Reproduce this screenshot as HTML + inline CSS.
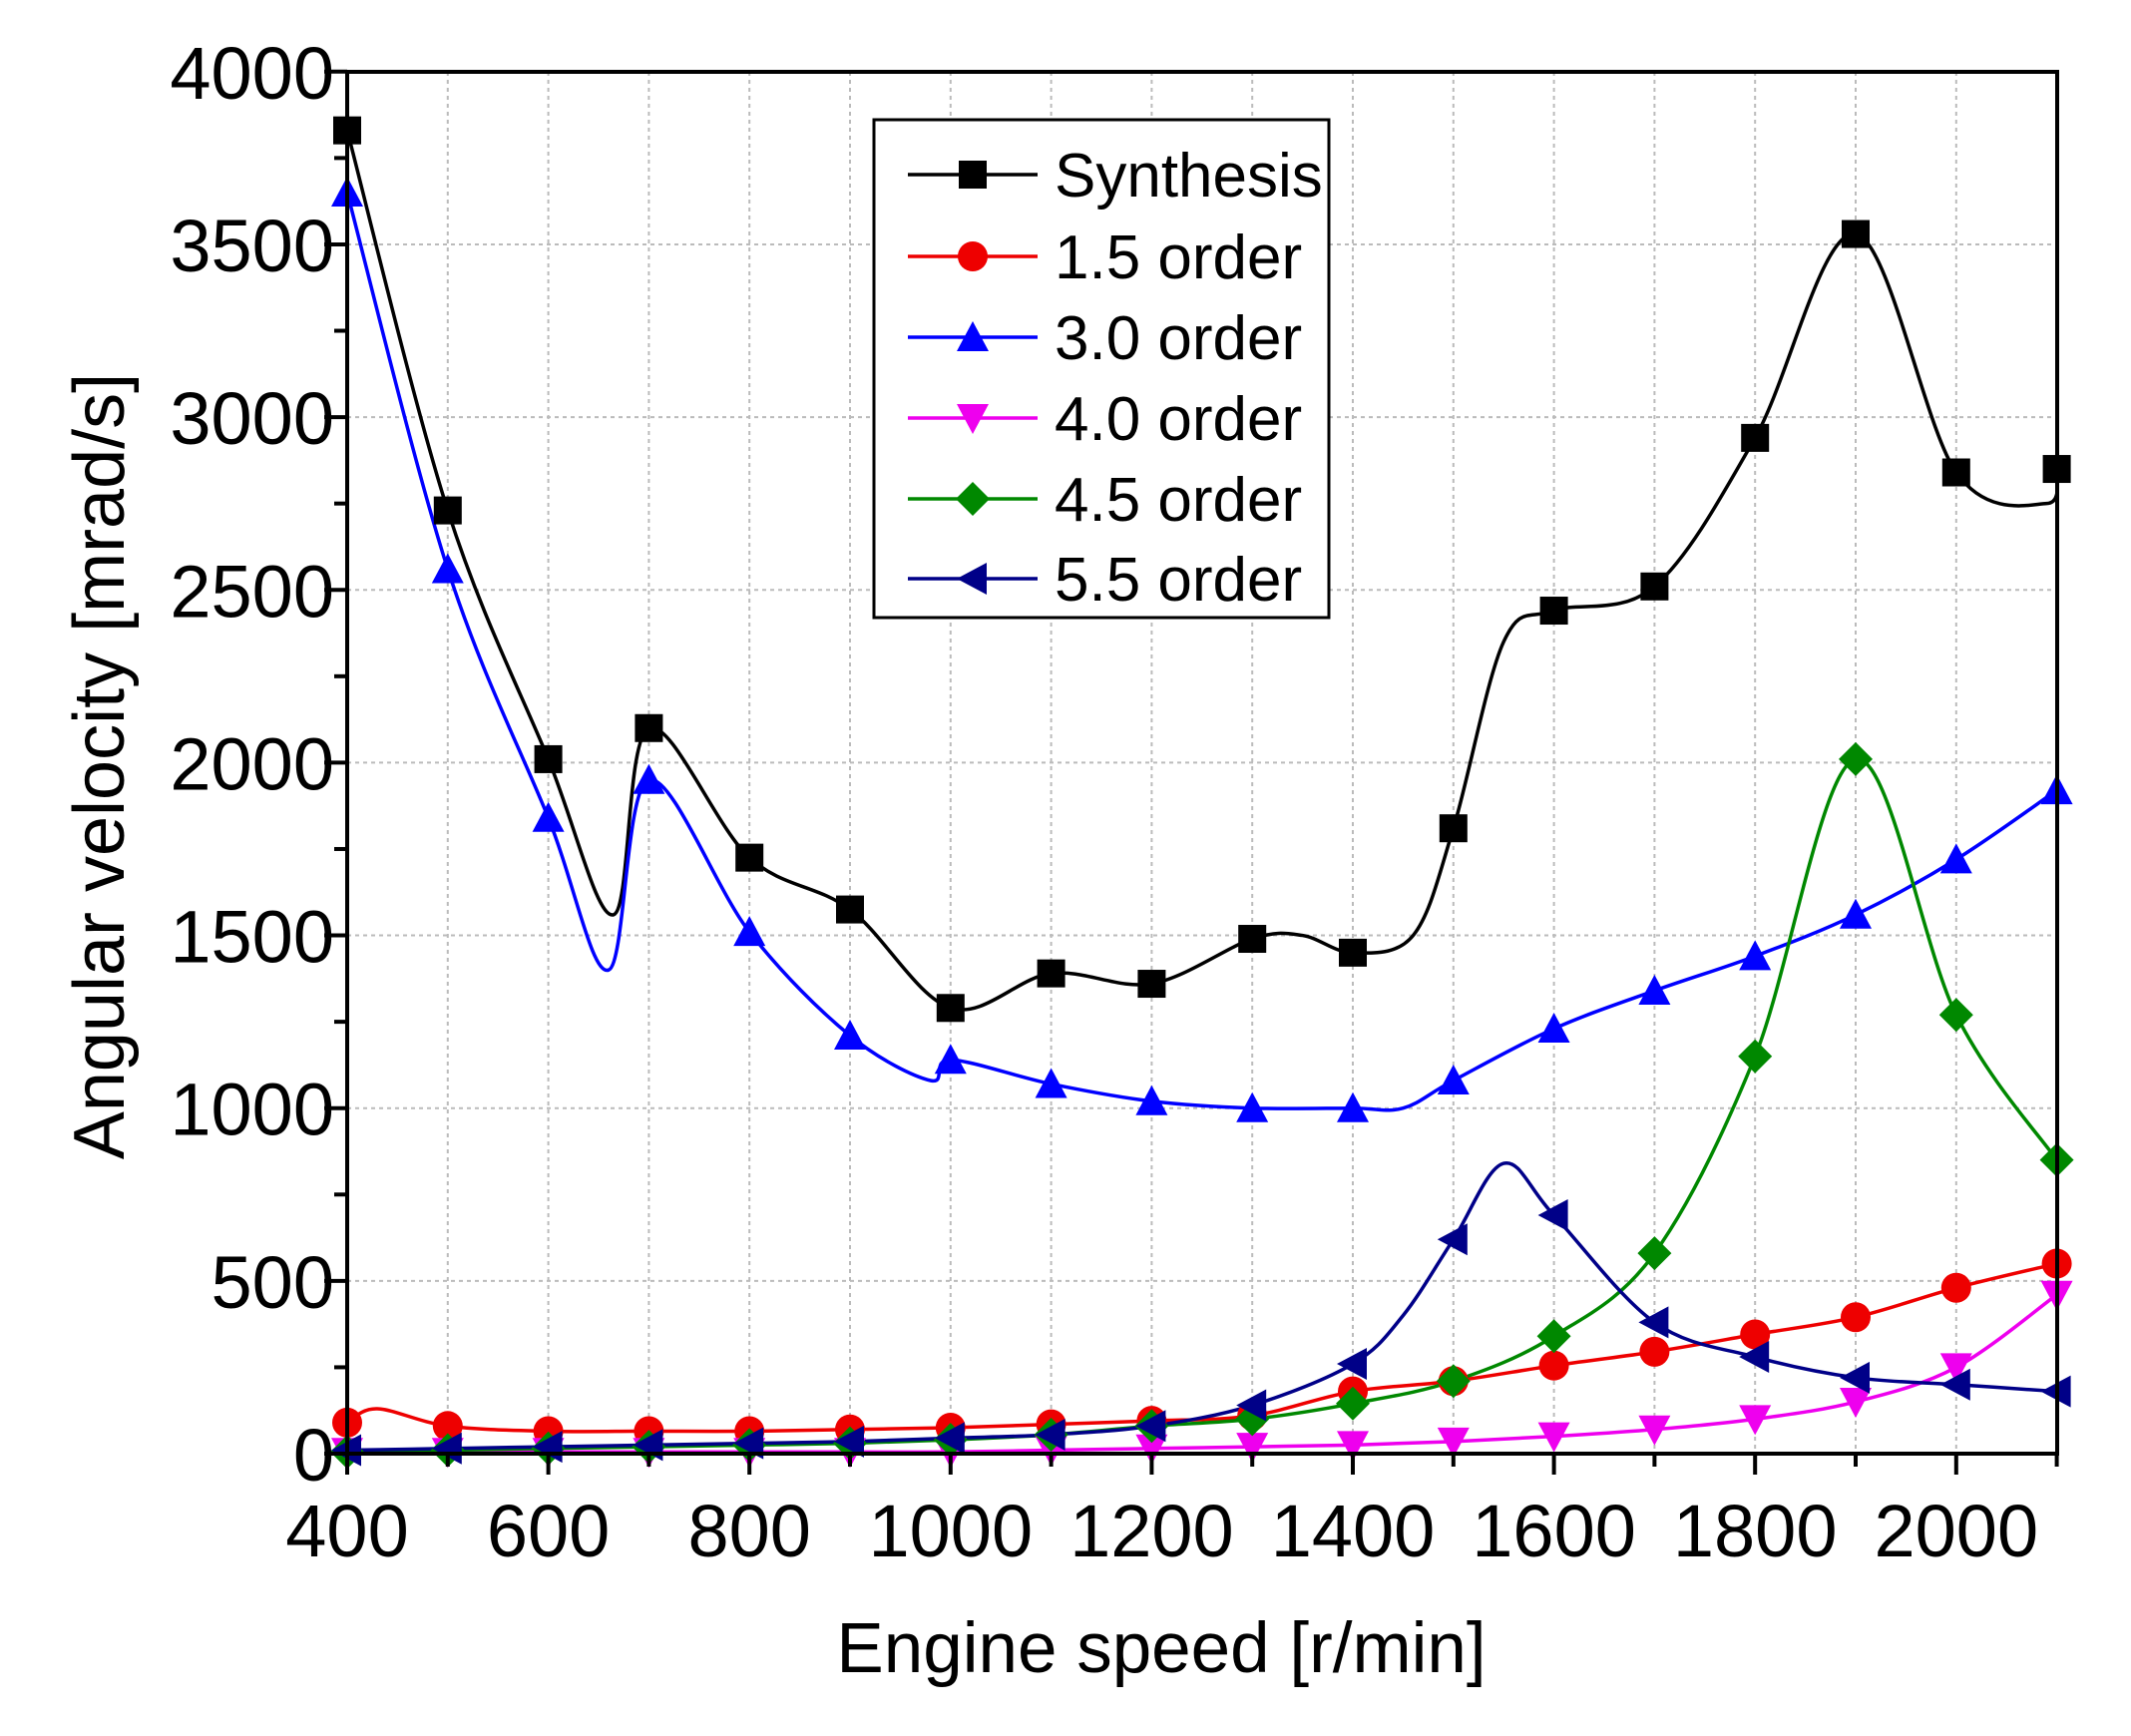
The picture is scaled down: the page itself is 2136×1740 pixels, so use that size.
<!DOCTYPE html>
<html><head><meta charset="utf-8"><style>
html,body{margin:0;padding:0;background:#fff;}
svg{display:block;font-family:"Liberation Sans",Arial,sans-serif;}
</style></head><body>
<svg id="s" width="2136" height="1740" viewBox="0 0 2136 1740" xmlns="http://www.w3.org/2000/svg">
<rect width="2136" height="1740" fill="#fff"/>
<g id="grid" stroke="#bbb" stroke-width="2" stroke-dasharray="4,4"></g>
<g id="series"></g>
<rect x="348" y="72" width="1714" height="1385" fill="none" stroke="#000" stroke-width="4"/>
<g id="ticks" stroke="#000" stroke-width="4"></g>
<g id="labels" font-size="74" fill="#000"></g>
<text x="1164" y="1676" font-size="71" text-anchor="middle">Engine speed [r/min]</text>
<text transform="translate(124,768) rotate(-90)" font-size="72" text-anchor="middle">Angular velocity [mrad/s]</text>
<g id="legend">
<rect x="876" y="120" width="456" height="499" fill="#fff" stroke="#000" stroke-width="3"/>
</g>
</svg>
<script>
const NS="http://www.w3.org/2000/svg";
const X=v=>348+(v-400)*1.008, Y=v=>1457-v*0.3463;
function el(t,a,p){const e=document.createElementNS(NS,t);for(const k in a)e.setAttribute(k,a[k]);p.appendChild(e);return e;}
const grid=document.getElementById('grid'),ticks=document.getElementById('ticks'),labels=document.getElementById('labels');
for(let v=400;v<=2100;v+=100){const x=X(v);
 if(v>400&&v<2100)el('line',{x1:x,y1:72,x2:x,y2:1457},grid);
 el('line',{x1:x,y1:1457,x2:x,y2:v%200==0?1478:1470},ticks);
 if(v%200==0){const t=el('text',{x:x,y:1560,'text-anchor':'middle'},labels);t.textContent=v;}}
for(let v=0;v<=4000;v+=250){const y=Y(v);
 if(v%500==0&&v>0&&v<4000)el('line',{x1:348,y1:y,x2:2062,y2:y},grid);
 el('line',{x1:348,y1:y,x2:v%500==0?325:335,y2:y},ticks);
 if(v%500==0){const t=el('text',{x:335,y:y+27,'text-anchor':'end'},labels);t.textContent=v;}}
const xs=[400,500,600,700,800,900,1000,1100,1200,1300,1400,1500,1600,1700,1800,1900,2000,2100];
const S=[
{c:'#000',m:'sq',d:[3830,2730,2010,2100,1725,1575,1290,1390,1360,1490,1450,1810,2440,2510,2940,3530,2840,2850],extra:[[665,1560],[1350,1500],[1460,1500],[1550,2350],[2090,2750]]},
{c:'#e00',m:'ci',d:[90,80,65,65,65,70,75,85,95,110,180,210,255,295,345,395,480,550],extra:[[430,130]]},
{c:'#00f',m:'tu',d:[3650,2560,1840,1950,1510,1210,1140,1070,1020,1000,1000,1080,1230,1340,1440,1560,1720,1920],extra:[[660,1400],[980,1080],[1450,1000]]},
{c:'#e0e',m:'td',d:[5,5,5,5,5,5,5,10,15,20,25,35,50,70,100,150,250,460],extra:[]},
{c:'#080',m:'di',d:[5,10,15,20,25,30,40,55,80,100,145,210,340,580,1150,2010,1270,850],extra:[]},
{c:'#008',m:'tl',d:[10,15,20,25,30,35,45,55,80,140,260,620,690,380,280,220,200,180],extra:[[1550,840],[1450,400]]}];
const ser=document.getElementById('series');
function marker(m,x,y,c,p,r){r=r||14;
 if(m=='sq')el('rect',{x:x-r,y:y-r,width:2*r,height:2*r,fill:c},p);
 else if(m=='ci')el('circle',{cx:x,cy:y,r:r+1,fill:c},p);
 else if(m=='tu')el('polygon',{points:`${x},${y-r-2} ${x-r-2},${y+r} ${x+r+2},${y+r}`,fill:c},p);
 else if(m=='td')el('polygon',{points:`${x},${y+r+2} ${x-r-2},${y-r} ${x+r+2},${y-r}`,fill:c},p);
 else if(m=='di')el('polygon',{points:`${x},${y-r-3} ${x+r+3},${y} ${x},${y+r+3} ${x-r-3},${y}`,fill:c},p);
 else if(m=='tl')el('polygon',{points:`${x-r-2},${y} ${x+r},${y-r-2} ${x+r},${y+r+2}`,fill:c},p);}
function path(pts){let d=`M${pts[0][0]},${pts[0][1]}`;
 for(let i=0;i<pts.length-1;i++){const p0=pts[Math.max(0,i-1)],p1=pts[i],p2=pts[i+1],p3=pts[Math.min(pts.length-1,i+2)];
  const c1=[p1[0]+(p2[0]-p0[0])/6,p1[1]+(p2[1]-p0[1])/6],c2=[p2[0]-(p3[0]-p1[0])/6,p2[1]-(p3[1]-p1[1])/6];
  d+=`C${c1[0]},${c1[1]} ${c2[0]},${c2[1]} ${p2[0]},${p2[1]}`;}return d;}
for(const s of S){let pts=xs.map((x,i)=>[x,s.d[i]]).concat(s.extra).sort((a,b)=>a[0]-b[0]);
 el('path',{d:path(pts.map(p=>[X(p[0]),Y(p[1])])),fill:'none',stroke:s.c,'stroke-width':3.5},ser);}
for(const s of S){xs.forEach((x,i)=>marker(s.m,X(x),Y(s.d[i]),s.c,ser));}
const lg=document.getElementById('legend');
const names=['Synthesis','1.5 order','3.0 order','4.0 order','4.5 order','5.5 order'];
[175,257,338,419,500,580].forEach((y,i)=>{el('line',{x1:910,y1:y,x2:1040,y2:y,stroke:S[i].c,'stroke-width':3.5},lg);
 marker(S[i].m,975,y,S[i].c,lg);const t=el('text',{x:1057,y:y+22,'font-size':62},lg);t.textContent=names[i];});
</script>
</body></html>
